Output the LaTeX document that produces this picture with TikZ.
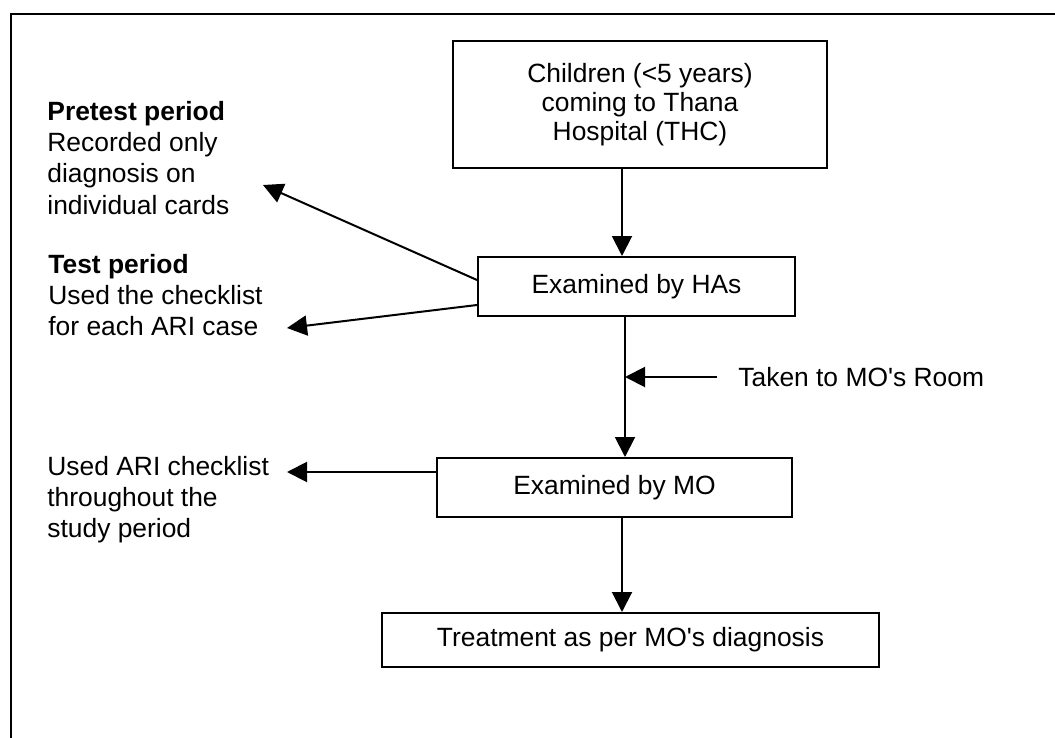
\documentclass[tikz,border=0pt]{standalone}
\usepackage{fontspec}
\setmainfont{Liberation Sans}
\usetikzlibrary{calc,arrows.meta}

\begin{document}
\begin{tikzpicture}[x=0.5pt, y=-0.5pt, font=\fontsize{13.2}{15.6}\selectfont,
		box/.style={draw, line width=1pt, align=center, inner sep=0pt},
		note/.style={anchor=north west, align=left, inner sep=0pt},
		arr/.style={line width=1pt, -{Triangle[length=10pt,width=10pt]}}]
		%%%%% START %%%%%
		
		\useasboundingbox (0, 0) rectangle (1055, 738);
		\draw[line width=1.2pt] (11, 738) -- (11, 14) -- (1055, 14);
		
		\node[box, minimum width=187pt, minimum height=63.5pt, font=\fontsize{13.2}{14.4}\selectfont] (children) at (640, 104.5) {Children (<5 years)\\coming to Thana\\Hospital (THC)};
		\node[box, minimum width=158.5pt, minimum height=29.5pt] (has) at (636.5, 286.5) {Examined by HAs};
		\node[box, minimum width=177.5pt, minimum height=29.5pt] (mo) at (614.5, 487.5) {Examined by MO};
		\node[box, minimum width=248.5pt, minimum height=27pt] (treat) at (630.5, 640) {Treatment as per MO\textquotesingle s diagnosis};
		
		\node[note] (pretest) at (47, 101) {\textbf{Pretest period}\\Recorded only\\diagnosis on\\individual cards};
		\node[note] (test) at (48, 254) {\textbf{Test period}\\Used the checklist\\for each ARI case};
		\node[note] (used) at (47, 456) {Used ARI checklist\\throughout the\\study period};
		\node[anchor=west, inner sep=0pt] (taken) at (738, 377) {Taken to MO\textquotesingle s Room};
		
		\coordinate (pretip) at (263, 185);
		\coordinate (testtip) at (287, 328);
		\coordinate (usedtip) at (287, 472);
		\coordinate (roomtip) at (625, 377);
		
		\draw[arr] ([xshift=-9pt]children.south) -- ([xshift=-7.25pt]has.north);
		\draw[arr] ([xshift=-5.75pt]has.south) -- ([xshift=5.25pt]mo.north);
		\draw[arr] ([xshift=3.75pt]mo.south) -- ([xshift=-4.25pt]treat.north);
		
		\draw[arr] ([yshift=3.25pt]has.west) -- (pretip);
		\draw[arr] ([yshift=-9.25pt]has.west) -- (testtip);
		\draw[arr] ([yshift=7.75pt]mo.west) -- (usedtip);
		\draw[arr] ([xshift=-10.5pt]taken.west) -- (roomtip);
		
		%%%%% END %%%%%
\end{tikzpicture}
\end{document}
